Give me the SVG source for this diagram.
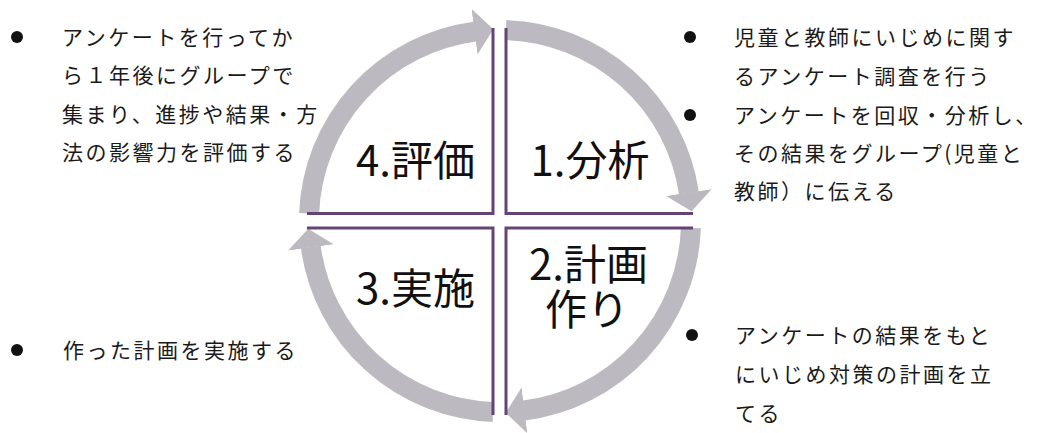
<svg xmlns="http://www.w3.org/2000/svg" width="1037" height="433" viewBox="0 0 1037 433">
<style>
.arc{fill:none;stroke:#bdb9c1;stroke-width:20;stroke-linecap:butt;marker-end:url(#ah)}
.qline{fill:none;stroke:#654475;stroke-width:3;stroke-linejoin:miter}
.lbl{font-family:"Noto Sans CJK JP","Noto Sans",sans-serif;font-size:42px;fill:#111;text-anchor:middle}
.txt{font-family:"Noto Sans CJK JP",sans-serif;font-size:21px;fill:#1a1a1a;letter-spacing:2.5px}
.bul{fill:#111}
</style>
<defs>
<marker id="ah" markerUnits="userSpaceOnUse" orient="auto" viewBox="0 -24 20 48" refX="0.5" refY="0" markerWidth="20" markerHeight="48">
<path d="M0,-23 L19,0 L0,23 Z" fill="#bdb9c1"/>
</marker>
</defs>
<rect width="1037" height="433" fill="#ffffff"/>
<g id="connectors">
<path class="arc" d="M506,30.1 A191,191 0 0 1 688.9,193"/>
<path class="arc" d="M690.9,228 A191,191 0 0 1 524,410.5"/>
<path class="arc" d="M493,411.9 A191,191 0 0 1 310.8,247"/>
<path class="arc" d="M309.1,213.5 A191,191 0 0 1 475,31.6"/>
</g>
<g id="node-analysis">
<path class="qline" d="M506,28 V213.5 H693"/>
<text class="lbl" x="590" y="175.5">1.分析</text>
</g>
<g id="node-plan">
<path class="qline" d="M506,415 V228 H693"/>
<text class="lbl"><tspan x="588.5" y="280">2.計画</tspan><tspan x="587" y="324.5">作り</tspan></text>
</g>
<g id="node-implement">
<path class="qline" d="M493,415 V228 H307"/>
<text class="lbl" x="415.5" y="303.5">3.実施</text>
</g>
<g id="node-evaluate">
<path class="qline" d="M493,28 V213.5 H307"/>
<text class="lbl" x="415.5" y="175.5">4.評価</text>
</g>
<g id="note-evaluate">
<circle class="bul" cx="17" cy="37" r="6"/>
<text class="txt" x="62" y="44.5">アンケートを行ってか</text>
<text class="txt" x="62" y="83">ら１年後にグループで</text>
<text class="txt" x="62" y="121.5">集まり、進捗や結果・方</text>
<text class="txt" x="62" y="160">法の影響力を評価する</text>
</g>
<g id="note-analysis">
<circle class="bul" cx="690" cy="37" r="6"/>
<text class="txt" x="734" y="44.5">児童と教師にいじめに関す</text>
<text class="txt" x="734" y="83.5">るアンケート調査を行う</text>
<circle class="bul" cx="690" cy="115" r="6"/>
<text class="txt" x="734" y="122.5">アンケートを回収・分析し、</text>
<text class="txt" x="734" y="160.5">その結果をグループ(児童と</text>
<text class="txt" x="734" y="198.5">教師）に伝える</text>
</g>
<g id="note-implement">
<circle class="bul" cx="17" cy="350" r="6"/>
<text class="txt" x="63" y="357.5">作った計画を実施する</text>
</g>
<g id="note-plan">
<circle class="bul" cx="692" cy="335" r="6"/>
<text class="txt" x="735" y="342.5">アンケートの結果をもと</text>
<text class="txt" x="735" y="381.5">にいじめ対策の計画を立</text>
<text class="txt" x="735" y="420.5">てる</text>
</g>
</svg>
